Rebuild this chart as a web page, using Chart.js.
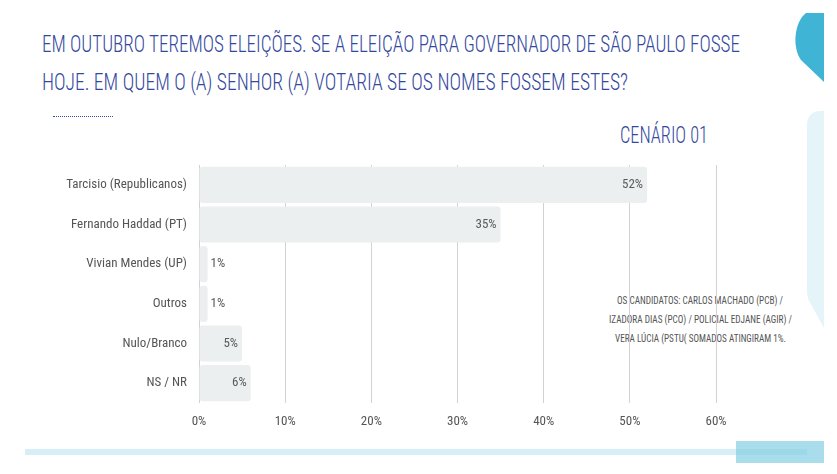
<!DOCTYPE html>
<html>
<head>
<meta charset="utf-8">
<script src="https://cdn.jsdelivr.net/npm/chart.js@4/dist/chart.umd.min.js"></script>
<style>
  html, body { margin: 0; padding: 0; background: #fff; }
  #page { position: relative; width: 837px; height: 474px; overflow: hidden; font-family: "Roboto Condensed", "Open Sans", sans-serif; }
  #cnv { position: absolute; left: 0; top: 0; }
  #deco { position: absolute; left: 0; top: 0; }
  .fit { position: absolute; white-space: nowrap; transform-origin: 0 0; }
  .title { left: 42px; color: #34489e; font-size: 24px; font-weight: 300; }
  #scen { left: 620px; top: 121px; color: #34489e; font-size: 24px; font-weight: 300; }
  .note { color: #555; font-size: 11px; }
  #dots { position: absolute; left: 53px; top: 116px; width: 60px; border-top: 1px dotted #34489e; }
</style>
</head>
<body>
<div id="page">
  <svg id="deco" width="837" height="474">
    <path d="M806 13 L824 13 L824 82 L801 60 C792 48 794 22 806 13 Z" fill="#3fb4d4"/>
    <path d="M820 111 L824 111 L824 328 L812 306 C808 300 807 296 807 290 L807 125 C807 117 812 111 820 111 Z" fill="#e4f4f9"/>
    <rect x="25" y="449" width="782" height="6" fill="#d6eff6"/>
    <rect x="736" y="441" width="88" height="22" fill="rgba(130,205,226,0.68)"/>
  </svg>
  <div class="fit title" data-w="698" style="top:30px;">EM OUTUBRO TEREMOS ELEIÇÕES. SE A ELEIÇÃO PARA GOVERNADOR DE SÃO PAULO FOSSE</div>
  <div class="fit title" data-w="586" style="top:68px;">HOJE. EM QUEM O (A) SENHOR (A) VOTARIA SE OS NOMES FOSSEM ESTES?</div>
  <div id="dots"></div>
  <div class="fit" id="scen" data-w="88">CENÁRIO 01</div>
  <div class="fit note" data-w="166" style="left:617px;top:294px;">OS CANDIDATOS: CARLOS MACHADO (PCB) /</div>
  <div class="fit note" data-w="183" style="left:609px;top:313px;">IZADORA DIAS (PCO) / POLICIAL EDJANE (AGIR) /</div>
  <div class="fit note" data-w="171" style="left:615px;top:332px;">VERA LÚCIA (PSTU( SOMADOS ATINGIRAM 1%.</div>
  <canvas id="cnv" width="837" height="474"></canvas>
</div>
<script>
var candidates = ['Tarcisio (Republicanos)', 'Fernando Haddad (PT)', 'Vivian Mendes (UP)', 'Outros', 'Nulo/Branco', 'NS / NR'];
var votes = [52, 35, 1, 1, 5, 6];
var tickMax = 60;
var tickStep = 10;

var fontName = '"Roboto Condensed", "Open Sans", sans-serif';

// squeeze the html text lines to the widths seen in the picture
document.querySelectorAll('.fit').forEach(function(el) {
  var w = el.getBoundingClientRect().width;
  el.style.transform = 'scaleX(' + (el.dataset.w / w) + ')';
});

var valueLabels = {
  id: 'valueLabels',
  afterDatasetsDraw: function(chart) {
    var ctx = chart.ctx;
    var meta = chart.getDatasetMeta(0);
    ctx.save();
    ctx.font = '13px ' + fontName;
    ctx.fillStyle = '#5a5a5a';
    ctx.textBaseline = 'middle';
    meta.data.forEach(function(bar, i) {
      var v = votes[i];
      if (v > 3) {
        ctx.textAlign = 'right';
        ctx.fillText(v + '%', bar.x - 4, bar.y);
      } else {
        ctx.textAlign = 'left';
        ctx.fillText(v + '%', bar.x + 3, bar.y);
      }
    });
    ctx.restore();
  }
};

var Cnvs = document.getElementById('cnv');
var option = {
  indexAxis: 'y',
  responsive: false,
  animation: false,
  layout: { padding: { left: 0, right: 121, top: 165, bottom: 41 } },
  plugins: { legend: { display: false }, tooltip: { enabled: false } },
  scales: {
    x: {
      min: 0,
      max: tickMax,
      border: { display: false },
      grid: { color: '#d2d2d2', lineWidth: 1, drawTicks: false },
      ticks: {
        stepSize: tickStep,
        padding: 11,
        color: '#555',
        font: { family: fontName, size: 13 },
        callback: function(v) { return v + '%'; }
      },
      afterFit: function(s) { s.height = 30; }
    },
    y: {
      border: { display: false },
      grid: { display: false, drawTicks: false },
      ticks: { padding: 12, color: '#555', font: { family: fontName, size: 13 } },
      afterFit: function(s) { s.width = 199; }
    }
  }
};

var barChart = new Chart(Cnvs, {
  type: 'bar',
  data: {
    labels: candidates,
    datasets: [{
      data: votes,
      backgroundColor: '#eceff0',
      borderRadius: 3,
      borderSkipped: false,
      barPercentage: 0.91,
      categoryPercentage: 1
    }]
  },
  options: option,
  plugins: [valueLabels]
});
</script>
</body>
</html>
